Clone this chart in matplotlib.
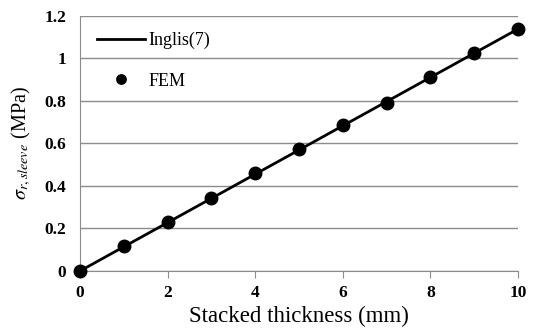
import matplotlib
matplotlib.use("Agg")
import matplotlib.pyplot as plt

# data
thickness = [0, 1, 2, 3, 4, 5, 6, 7, 8, 9, 10]
fem_stress = [0.0, 0.118, 0.231, 0.341, 0.461, 0.575, 0.688, 0.79, 0.913, 1.027, 1.138]
inglis_x = [0, 10]
inglis_y = [0.0, 1.138]

x_ticks = [0, 2, 4, 6, 8, 10]
y_ticks = [0, 0.2, 0.4, 0.6, 0.8, 1.0, 1.2]
y_tick_labels = ["0", "0.2", "0.4", "0.6", "0.8", "1", "1.2"]

plt.rcParams['font.family'] = ['Liberation Serif', 'DejaVu Serif']
plt.rcParams['mathtext.fontset'] = 'stix'

fig = plt.figure(figsize=(5.34, 3.30), dpi=100)
ax = fig.add_axes([0.150, 0.179, 0.820, 0.773])

ax.plot(inglis_x, inglis_y, color='black', linewidth=2, label='Inglis(7)', zorder=3)
ax.plot(thickness, fem_stress, 'o', color='black', markersize=9, linestyle='none',
        label='FEM', zorder=4, clip_on=False)

ax.set_xlim(0, 10)
ax.set_ylim(0, 1.2)
ax.set_xticks(x_ticks)
ax.set_yticks(y_ticks)
ax.set_yticklabels(y_tick_labels)
ax.yaxis.grid(True, color='#8c8c8c', linewidth=1)
ax.set_axisbelow(True)

for s in ['top', 'right']:
    ax.spines[s].set_visible(False)
ax.spines['left'].set_color('#8c8c8c')
ax.spines['bottom'].set_color('#8c8c8c')
ax.tick_params(axis='y', length=0, pad=10, labelsize=12.5)
ax.tick_params(axis='x', length=5, color='#8c8c8c', pad=5, labelsize=12.5)
for lbl in ax.get_xticklabels() + ax.get_yticklabels():
    lbl.set_fontweight('bold')

ax.set_xlabel('Stacked thickness (mm)', fontsize=16.5, labelpad=4)
ax.set_ylabel(r'$\sigma_{r,sleeve}$ (MPa)', fontsize=14.5, labelpad=8)

ax.legend(loc='upper left', frameon=False, fontsize=13, handlelength=2.66,
          handletextpad=0.17, labelspacing=1.3, borderpad=0, borderaxespad=0,
          markerscale=0.75, bbox_to_anchor=(0.039, 0.937))

fig.savefig('out.png', dpi=100)
